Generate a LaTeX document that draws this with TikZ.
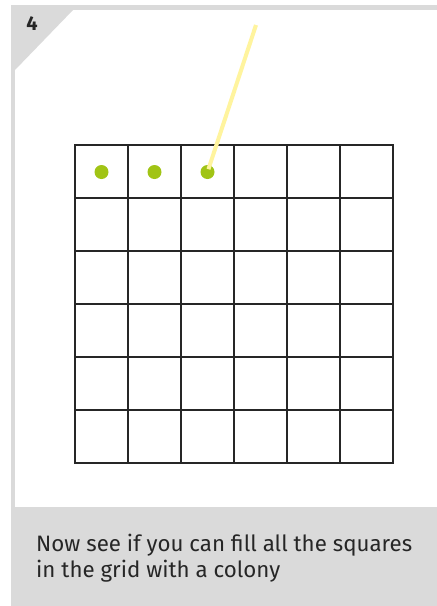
\documentclass[tikz,border=0pt]{standalone}
\usepackage{fontspec}
\setmainfont{Fira Sans}
\usepackage{xcolor}
\usetikzlibrary{positioning, calc}
\definecolor{panelgray}{RGB}{218,218,218}
\definecolor{colonygreen}{RGB}{161,196,21}
\definecolor{paleyellow}{RGB}{255,244,158}

\begin{document}
\begin{tikzpicture}[x=1pt, y=-1pt,
    panel/.style={fill=panelgray, draw=none},
    colony/.style={circle, fill=colonygreen, inner sep=0pt, minimum size=14pt},
    gridline/.style={draw=black!85, line width=1.1pt, line cap=rect},
    pointer/.style={draw=paleyellow, line width=4pt, shorten >=3pt},
    caption/.style={anchor=base west, align=left, inner sep=0pt, font=\fontsize{22.3}{26}\selectfont, text=black!85}]

    \useasboundingbox (0,0) rectangle (437,606);

    % frame and corner
    \fill [panel] (11,5) rectangle (441,612);
    \fill [white] (15,10) rectangle (441,507);
    \fill [panel] (15,10) -- (73,10) -- (15,70) -- cycle;
    \node [font=\fontsize{20}{22}\selectfont\bfseries, text=black!85] (number) at (32,23.5) {4};

    % the grid
    \foreach \k in {0,...,6} {
        \draw [gridline] ({75+53*\k},145) -- ({75+53*\k},463);
        \draw [gridline] (75,{145+53*\k}) -- (393,{145+53*\k});
    }

    % colonies in the first row
    \foreach \i/\name in {0/first, 1/second, 2/third}
        \node [colony] (\name) at ({101.5+53*\i},172) {};

    \coordinate (tip) at (256,25);
    \draw [pointer] (tip) -- (third.center);

    \node [caption] (text) at (36,551) {Now see if you can fill all the squares};
    \node [caption] (text2) at (36,577) {in the grid with a colony};

\end{tikzpicture}
\end{document}
